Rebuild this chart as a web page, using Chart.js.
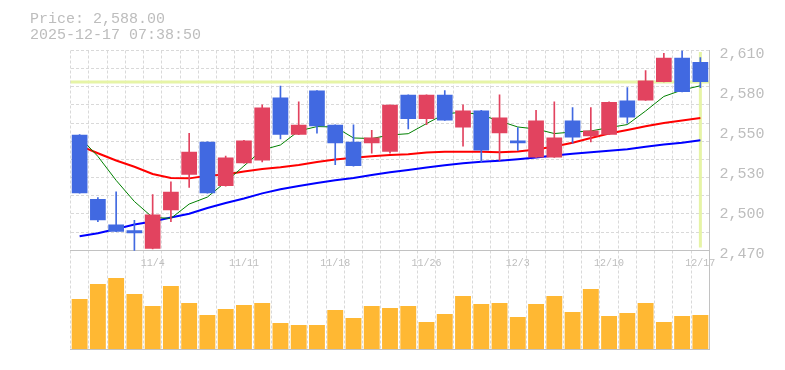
<!DOCTYPE html>
<html>
<head>
<meta charset="utf-8">
<title>Price chart</title>
<script src="https://cdn.jsdelivr.net/npm/chart.js@4.4.1/dist/chart.umd.min.js"></script>
<style>
  html, body { margin: 0; padding: 0; background: #fff; }
  #wrap { width: 785px; height: 370px; }
</style>
</head>
<body>
<div id="wrap"><canvas id="chart" width="785" height="370"></canvas></div>
<script>
// trading days (10/28 - 12/17)
const dates = ['10/28', '10/29', '10/30', '10/31', '11/4', '11/5', '11/6', '11/7', '11/10', '11/11',
    '11/12', '11/13', '11/14', '11/17', '11/18', '11/19', '11/20', '11/21', '11/25', '11/26',
    '11/27', '11/28', '12/1', '12/2', '12/3', '12/4', '12/5', '12/8', '12/9', '12/10',
    '12/11', '12/12', '12/15', '12/16', '12/17'];

const opens = [2551, 2506, 2488, 2484, 2471, 2498, 2523, 2546, 2515, 2531,
    2533, 2577, 2551, 2582, 2558, 2546, 2545, 2539, 2579, 2562,
    2579, 2556, 2568, 2552, 2547, 2535, 2535, 2561, 2550, 2551,
    2575, 2575, 2588, 2605, 2602];
const highs = [2551, 2507, 2511, 2491, 2509, 2518, 2552, 2546, 2536, 2547,
    2572, 2585, 2574, 2582, 2558, 2558, 2554, 2572, 2579, 2579,
    2582, 2572, 2568, 2579, 2556, 2568, 2574, 2570, 2570, 2574,
    2584, 2596, 2608, 2610, 2605];
const lows = [2510, 2490, 2483, 2470, 2471, 2490, 2514, 2510, 2515, 2531,
    2532, 2548, 2551, 2552, 2530, 2529, 2538, 2538, 2555, 2558,
    2561, 2543, 2532, 2533, 2540, 2535, 2535, 2545, 2546, 2551,
    2559, 2575, 2588, 2581, 2584];
const closes = [2510, 2491, 2483, 2482, 2495, 2511, 2539, 2510, 2535, 2547,
    2570, 2551, 2558, 2557, 2545, 2529, 2549, 2572, 2562, 2579,
    2561, 2568, 2540, 2563, 2545, 2561, 2549, 2549, 2554, 2574,
    2563, 2589, 2605, 2581, 2588];

const ma5 = [2549.4, 2535.8, 2519.0, 2504.2, 2493.0, 2492.4, 2502.4, 2507.3, 2517.9, 2529.1,
    2540.3, 2543.8, 2553.6, 2556.7, 2556.4, 2548.7, 2548.3, 2550.8, 2551.7, 2558.8,
    2565.5, 2566.9, 2564.8, 2560.6, 2556.4, 2555.0, 2551.8, 2552.9, 2553.6, 2556.0,
    2558.1, 2567.6, 2577.8, 2582.3, 2585.3];
const ma25 = [2543.4, 2538.0, 2532.9, 2528.5, 2523.5, 2520.7, 2520.4, 2522.2, 2523.1, 2525.2,
    2527.0, 2528.2, 2529.8, 2531.9, 2533.6, 2534.8, 2535.9, 2536.8, 2537.3, 2538.6,
    2539.1, 2539.1, 2539.0, 2538.7, 2539.2, 2540.6, 2542.7, 2545.3, 2548.7, 2551.8,
    2554.3, 2556.9, 2559.2, 2561.0, 2562.7];
const ma75 = [2479.8, 2481.9, 2484.9, 2488.1, 2490.2, 2493.0, 2495.6, 2499.6, 2503.1, 2506.3,
    2509.9, 2512.8, 2515.1, 2517.2, 2519.1, 2520.7, 2522.8, 2524.7, 2526.3, 2528.0,
    2529.6, 2531.0, 2532.0, 2532.8, 2533.8, 2535.0, 2536.5, 2537.7, 2538.7, 2539.7,
    2540.8, 2542.5, 2544.1, 2545.3, 2547.1];

const volumes = [500, 650, 710, 550, 430, 630, 460, 340, 400, 440,
    460, 260, 240, 240, 390, 310, 430, 410, 430, 270,
    350, 530, 450, 460, 320, 450, 530, 370, 600, 330,
    360, 460, 270, 330, 340];

const priceTicks = [2470, 2498, 2526, 2554, 2582, 2610];
const lastPrice = 2588;
const lastTime = '2025-12-17 07:38:50';

const UP = '#e2435f';
const DOWN = '#4169e1';
const GRID = '#d9d9d9';
const AXIS = '#c2c2c2';
const TEXT = '#bdbdbd';
const MARK = '#e6f4a6';

// price panel takes the top 2/3 of the plot, volume the rest
const priceLow = priceTicks[0];
const priceHigh = priceTicks[priceTicks.length - 1];
const pricePanel = 199.8 / 298.5;
const priceMin = priceHigh - (priceHigh - priceLow) / pricePanel;
const volMax = 2985;

const candleColors = opens.map((o, i) => closes[i] >= o ? UP : DOWN);

Chart.defaults.font.family = '"Liberation Mono", "DejaVu Sans Mono", monospace';
Chart.defaults.color = TEXT;

new Chart(document.getElementById('chart'), {
    type: 'bar',
    data: {
        labels: dates,
        datasets: [
            {
                label: 'body',
                data: opens.map((o, i) => [o, closes[i]]),
                backgroundColor: candleColors,
                barPercentage: 0.86,
                categoryPercentage: 1,
                grouped: false,
                yAxisID: 'y',
                order: 0
            },
            {
                label: 'wick',
                data: lows.map((l, i) => [l, highs[i]]),
                backgroundColor: candleColors,
                barThickness: 1,
                grouped: false,
                yAxisID: 'y',
                order: 1
            },
            {
                type: 'line',
                label: 'MA5',
                data: ma5,
                borderColor: '#008000',
                borderWidth: 1,
                pointRadius: 0,
                tension: 0,
                yAxisID: 'y',
                order: 2
            },
            {
                type: 'line',
                label: 'MA25',
                data: ma25,
                borderColor: '#ff0000',
                borderWidth: 2,
                pointRadius: 0,
                tension: 0,
                yAxisID: 'y',
                order: 2
            },
            {
                type: 'line',
                label: 'MA75',
                data: ma75,
                borderColor: '#0000ff',
                borderWidth: 2,
                pointRadius: 0,
                tension: 0,
                yAxisID: 'y',
                order: 2
            },
            {
                type: 'line',
                label: 'price',
                data: [{ x: 0, y: lastPrice }, { x: 1, y: lastPrice }],
                borderColor: MARK,
                borderWidth: 3,
                pointRadius: 0,
                xAxisID: 'xl',
                yAxisID: 'y',
                order: 3
            },
            {
                type: 'line',
                label: 'now',
                data: [{ x: dates[dates.length - 1], y: 2472 }, { x: dates[dates.length - 1], y: 2609 }],
                borderColor: MARK,
                borderWidth: 3,
                pointRadius: 0,
                yAxisID: 'y',
                order: 3
            },
            {
                label: 'volume',
                data: volumes,
                backgroundColor: '#ffb833',
                barPercentage: 0.87,
                categoryPercentage: 1,
                grouped: false,
                yAxisID: 'yVol',
                order: 4
            }
        ]
    },
    options: {
        responsive: false,
        animation: false,
        layout: { padding: { left: 30, right: 0, top: 0, bottom: 21 } },
        plugins: {
            legend: { display: false },
            tooltip: { enabled: false },
            title: {
                display: true,
                text: ['Price: ' + lastPrice.toLocaleString('en-US', { minimumFractionDigits: 2 }), lastTime],
                align: 'start',
                color: TEXT,
                font: { size: 15, weight: 'normal', lineHeight: '16px' },
                padding: { top: 11, bottom: 7.5 }
            }
        },
        scales: {
            x: {
                type: 'category',
                position: { y: priceLow },
                offset: true,
                grid: { offset: true, color: GRID, drawTicks: false },
                border: { display: true, color: AXIS, dash: [3, 2] },
                ticks: {
                    autoSkip: false,
                    maxRotation: 0,
                    padding: 7,
                    font: { size: 10 },
                    callback: (v, i) => (dates.length - 1 - i) % 5 === 0 ? dates[i] : ''
                }
            },
            xb: {
                type: 'category',
                labels: dates,
                position: 'bottom',
                offset: true,
                grid: { display: false, drawTicks: false },
                border: { display: true, color: AXIS },
                ticks: { display: false }
            },
            xl: { type: 'linear', display: false, offset: false, min: 0, max: 1 },
            y: {
                type: 'linear',
                position: 'right',
                min: priceMin,
                max: priceHigh,
                afterBuildTicks: (s) => { s.ticks = priceTicks.map(v => ({ value: v })); },
                afterFit: (s) => { s.width = 75.5; },
                grid: { display: false, drawTicks: false },
                border: { display: true, color: AXIS },
                ticks: {
                    padding: 10,
                    labelOffset: 4,
                    font: { size: 15 },
                    callback: (v) => (Math.round(v / 10) * 10).toLocaleString('en-US')
                }
            },
            yg: {
                type: 'linear',
                position: 'left',
                min: priceMin,
                max: priceHigh,
                afterBuildTicks: (s) => {
                    const step = (priceHigh - priceLow) / 11;
                    const t = [];
                    for (let k = 0; k <= 11; k++) t.push({ value: priceLow + k * step });
                    s.ticks = t;
                },
                afterFit: (s) => { s.width = 40.5; },
                grid: { color: GRID, drawTicks: false },
                border: { display: false, dash: [3, 2] },
                ticks: { display: false }
            },
            yVol: { type: 'linear', display: false, min: 0, max: volMax }
        }
    }
});
</script>
</body>
</html>
